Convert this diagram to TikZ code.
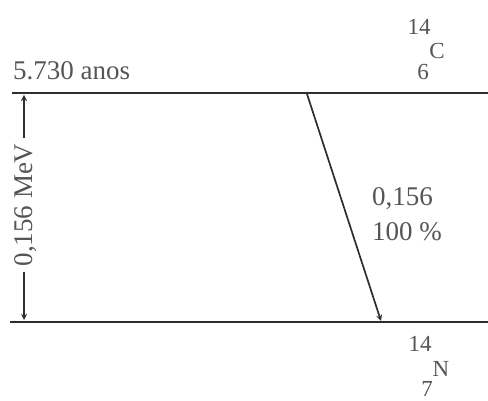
\documentclass[tikz,border=0pt]{standalone}
\usepackage{fontspec}
\setmainfont{Liberation Serif}
\usetikzlibrary{arrows, positioning}
\definecolor{ink}{HTML}{2e2e2e}
\definecolor{txt}{HTML}{555555}

\begin{document}
\begin{tikzpicture}[
    x=1pt, y=-1pt,
    every node/.style={font=\fontsize{27}{30}\selectfont, text=txt, inner sep=0pt},
    level/.style={ink, line width=2pt},
    arrow/.style={->, >=stealth, ink, line width=1.7pt},
    iso/.style={font=\fontsize{23}{25}\selectfont},
]
\useasboundingbox (0,0) rectangle (488,401);
% levels
\coordinate (cl) at (12,93);
\coordinate (cr) at (488,93);
\coordinate (nl) at (10,322);
\coordinate (nr) at (488,322);
\draw[level] (cl) -- (cr);
\draw[level] (nl) -- (nr);
% labels
\node[anchor=base west] (half) at (13,80) {5.730 anos};
\node[iso] (ca) at (419,27) {14};
\node[iso] (cs) at (437,51) {C};
\node[iso] (cz) at (423,72) {6};
\node[iso] (na) at (420,344) {14};
\node[iso] (ns) at (441,369) {N};
\node[iso] (nz) at (427,389) {7};
% energy gap
\node[rotate=90, inner sep=5pt] (gap) at (26,205) {0,156 MeV};
\draw[arrow] (gap.east -| 24,0) -- (24,95);
\draw[arrow] (gap.west -| 24,0) -- (24,320);
% beta decay
\coordinate (top) at (307,94);
\coordinate (bot) at (381,321);
\draw[arrow] (top) -- (bot);
\node[anchor=west] (en) at (372,199) {0,156};
\node[anchor=west] (pc) at (372,232) {100 \%};
\end{tikzpicture}
\end{document}
